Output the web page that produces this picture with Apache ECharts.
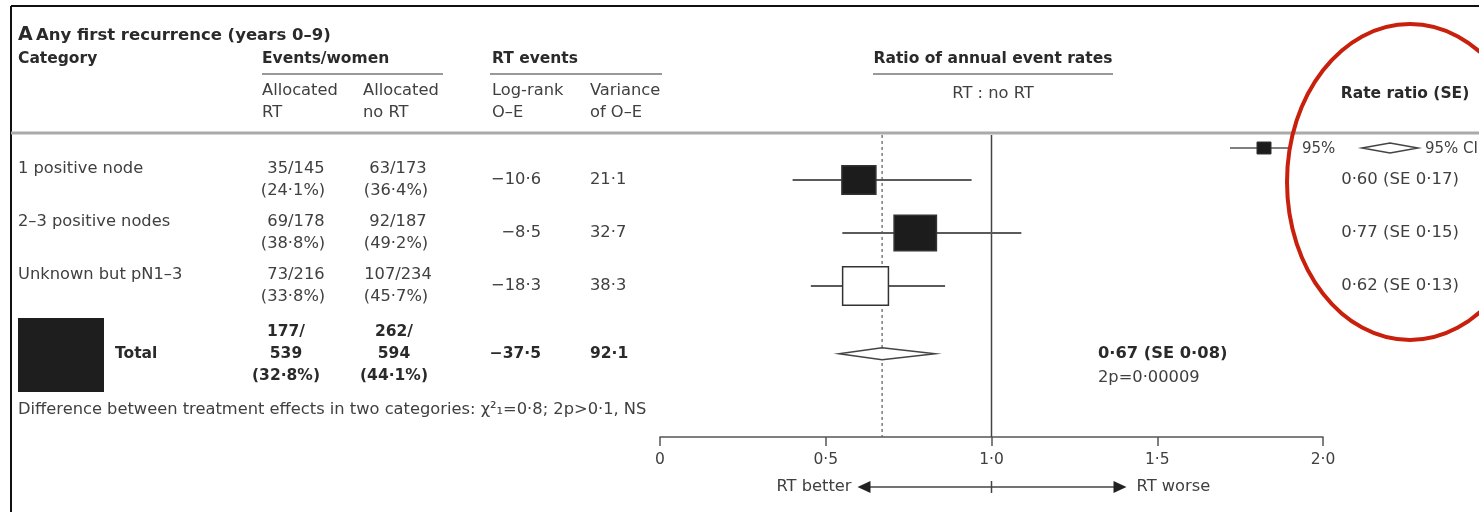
<!DOCTYPE html>
<html><head><meta charset="utf-8">
<script src="https://cdn.jsdelivr.net/npm/echarts@6/dist/echarts.min.js"></script>
<style>html,body{margin:0;padding:0;background:#fff}#c{width:1479px;height:512px}</style>
</head><body><div id="c"></div>
<script>
// ---- data ----
const categories = ['1 positive node', '2–3 positive nodes', 'Unknown but pN1–3'];
const rtEvents = ['35/145', '69/178', '73/216'];
const rtPct = ['(24·1%)', '(38·8%)', '(33·8%)'];
const noRtEvents = ['63/173', '92/187', '107/234'];
const noRtPct = ['(36·4%)', '(49·2%)', '(45·7%)'];
const logRank = [-10.6, -8.5, -18.3];
const variance = [21.1, 32.7, 38.3];
const ratio = [0.60, 0.77, 0.62];
const ratioSE = [0.17, 0.15, 0.13];
const ciLow = [0.40, 0.55, 0.455];
const ciHigh = [0.94, 1.09, 0.86];
const filled = [1, 1, 0];
const totalRt = ['177/', '539', '(32·8%)'];
const totalNoRt = ['262/', '594', '(44·1%)'];
const totalLogRank = -37.5;
const totalVariance = 92.1;
const totalRatio = 0.67;
const totalSE = 0.08;
const totalLow = 0.54;
const totalHigh = 0.83;
const totalP = '2p=0·00009';
const xTicks = ['0', '0·5', '1·0', '1·5', '2·0'];

// ---- layout ----
const rowPos = [1, 2, 3];
const totalPos = 4.28;
const yMax = 5.85;
const FONT = '"DejaVu Sans", "Open Sans", sans-serif';
const FS = 16.3;
const FSB = 15.5;
const TXT = '#404040';
const BOLD = '#2a2a2a';

const dot = s => String(s).replace('.', '·').replace('-', '−');
const f2 = v => dot(v.toFixed(2));
const f1 = v => dot(v.toFixed(1));

const chart = echarts.init(document.getElementById('c'), null, {renderer: 'canvas'});

const rowData = ratio.map((r, i) => [r, rowPos[i], ciLow[i], ciHigh[i], 7.4 * Math.sqrt(variance[i]), filled[i]]);

chart.setOption({
  animation: false,
  backgroundColor: '#fff',
  grid: {left: 660, right: 156, top: 127, bottom: 75},
  xAxis: {
    type: 'value', min: 0, max: 2, interval: 0.5, position: 'bottom',
    axisLine: {show: true, onZero: false, lineStyle: {color: '#555', width: 1.5}},
    axisTick: {show: true, length: 9, lineStyle: {color: '#555', width: 1.5}},
    axisLabel: {color: TXT, fontSize: 15.5, fontFamily: FONT, margin: 15,
      formatter: v => xTicks[Math.round(v / 0.5)]},
    splitLine: {show: false}
  },
  yAxis: {type: 'value', min: 0, max: yMax, inverse: true, show: false},
  series: [
    {
      type: 'line', symbol: 'none', silent: true,
      data: [[totalRatio, 0.15], [totalRatio, yMax]],
      lineStyle: {color: '#666', width: 1.3, type: [3, 3]}, z: 1
    },
    {
      type: 'line', symbol: 'none', silent: true,
      data: [[1, 0.15], [1, yMax]],
      lineStyle: {color: '#444', width: 1.5}, z: 1
    },
    {
      type: 'custom', z: 5,
      encode: {x: [0, 2, 3], y: 1},
      data: rowData,
      renderItem: (params, api) => {
        const y = api.value(1);
        const pE = api.coord([api.value(0), y]);
        const pL = api.coord([api.value(2), y]);
        const pH = api.coord([api.value(3), y]);
        const w = api.value(4), h = w * 0.84;
        const fill = api.value(5) ? '#1c1c1c' : '#fff';
        return {type: 'group', children: [
          {type: 'line', shape: {x1: pL[0], y1: pL[1], x2: pH[0], y2: pH[1]}, style: {stroke: '#5a5a5a', lineWidth: 2}},
          {type: 'rect', shape: {x: pE[0] - w / 2, y: pE[1] - h / 2, width: w, height: h},
            style: {fill: fill, stroke: '#333', lineWidth: 1.5}}
        ]};
      }
    },
    {
      type: 'custom', z: 5,
      encode: {x: [0, 2, 3], y: 1},
      data: [[totalRatio, totalPos, totalLow, totalHigh]],
      renderItem: (params, api) => {
        const y = api.value(1);
        const pE = api.coord([api.value(0), y]);
        const pL = api.coord([api.value(2), y]);
        const pH = api.coord([api.value(3), y]);
        const h = 6;
        return {type: 'polygon', shape: {points: [[pL[0], pL[1]], [pE[0], pE[1] - h], [pH[0], pH[1]], [pE[0], pE[1] + h]]},
          style: {fill: '#fff', stroke: '#444', lineWidth: 1.5}};
      }
    }
  ]
});

// ---- table and annotations ----
const py = v => chart.convertToPixel({yAxisIndex: 0}, v);
const px = v => chart.convertToPixel({xAxisIndex: 0}, v);
const g = [];
function T(text, x, y, opt) {
  opt = opt || {};
  g.push({type: 'text', x: x, y: y, z: 20, silent: true, style: {
    text: text, fill: opt.bold ? BOLD : TXT,
    font: (opt.bold ? 'bold ' : '') + (opt.size || (opt.bold ? FSB : FS)) + 'px ' + FONT,
    textAlign: opt.align || 'left', textVerticalAlign: 'middle'
  }});
}
function L(x1, y1, x2, y2, stroke, w, dash) {
  g.push({type: 'line', z: 15, silent: true, shape: {x1, y1, x2, y2}, style: {stroke, lineWidth: w, lineDash: dash || null}});
}

// frame
L(11, 6, 1479, 6, '#111', 2);
L(11, 6, 11, 512, '#111', 2);

// titles & headers
T('A', 18, 35, {bold: true, size: 19});
T('Any first recurrence (years 0–9)', 36, 36, {bold: true, size: 16.5});
T('Category', 18, 59, {bold: true});
T('Events/women', 262, 59, {bold: true});
T('RT events', 492, 59, {bold: true});
T('Ratio of annual event rates', 993, 59, {bold: true, align: 'center'});
L(262, 74, 443, 74, '#999', 2);
L(490, 74, 662, 74, '#999', 2);
L(873, 74, 1113, 74, '#999', 2);
T('Allocated', 262, 91); T('RT', 262, 113);
T('Allocated', 363, 91); T('no RT', 363, 113);
T('Log-rank', 492, 91); T('O–E', 492, 113);
T('Variance', 590, 91); T('of O–E', 590, 113);
T('RT : no RT', 993, 94, {align: 'center'});
T('Rate ratio (SE)', 1405, 94, {bold: true, align: 'center'});
L(11, 133, 1479, 133, '#aaa', 3);

// legend
L(1230, 148, 1288, 148, '#555', 1.5);
g.push({type: 'rect', z: 16, shape: {x: 1257, y: 142, width: 14, height: 12}, style: {fill: '#1c1c1c', stroke: '#333'}});
T('95%', 1302, 149, {size: 15});
g.push({type: 'polygon', z: 16, shape: {points: [[1362, 148], [1390, 143], [1418, 148], [1390, 153]]}, style: {fill: '#fff', stroke: '#444', lineWidth: 1.5}});
T('95% CI', 1425, 149, {size: 15});

// rows
categories.forEach((c, i) => {
  const y = py(rowPos[i]);
  T(c, 18, y - 11);
  T(rtEvents[i], 296, y - 11, {align: 'center'});
  T(rtPct[i], 293, y + 11, {align: 'center'});
  T(noRtEvents[i], 398, y - 11, {align: 'center'});
  T(noRtPct[i], 396, y + 11, {align: 'center'});
  T(f1(logRank[i]), 541, y, {align: 'right'});
  T(f1(variance[i]), 590, y);
  T(f2(ratio[i]) + ' (SE ' + f2(ratioSE[i]) + ')', 1400, y, {align: 'center', size: 16.5});
});

// total
const ty = py(totalPos);
g.push({type: 'rect', z: 16, shape: {x: 18, y: 318, width: 86, height: 74}, style: {fill: '#1e1e1e'}});
T('Total', 115, ty, {bold: true});
totalRt.forEach((s, k) => T(s, 286, ty + (k - 1) * 22, {bold: true, align: 'center'}));
totalNoRt.forEach((s, k) => T(s, 394, ty + (k - 1) * 22, {bold: true, align: 'center'}));
T(f1(totalLogRank), 541, ty, {bold: true, align: 'right'});
T(f1(totalVariance), 590, ty, {bold: true});
T(f2(totalRatio) + ' (SE ' + f2(totalSE) + ')', 1098, ty, {bold: true, size: 16.3});
T(totalP, 1098, ty + 24);

T('Difference between treatment effects in two categories: χ²₁=0·8; 2p>0·1, NS', 18, 410);

// direction arrow
const ay = 487, xc = px(1);
L(xc - 126, ay, xc + 127, ay, '#444', 1.5);
L(xc, ay - 6, xc, ay + 6, '#444', 1.5);
g.push({type: 'polygon', z: 16, shape: {points: [[xc - 134, ay], [xc - 121, ay - 6], [xc - 121, ay + 6]]}, style: {fill: '#222'}});
g.push({type: 'polygon', z: 16, shape: {points: [[xc + 135, ay], [xc + 122, ay - 6], [xc + 122, ay + 6]]}, style: {fill: '#222'}});
T('RT better', xc - 140, ay, {align: 'right'});
T('RT worse', xc + 145, ay);

// red annotation ellipse
g.push({type: 'ellipse', z: 30, silent: true, shape: {cx: 1410, cy: 182, rx: 123, ry: 158}, style: {fill: 'none', stroke: '#c8200c', lineWidth: 4}});

chart.setOption({graphic: {elements: g}});
</script>
</body></html>
